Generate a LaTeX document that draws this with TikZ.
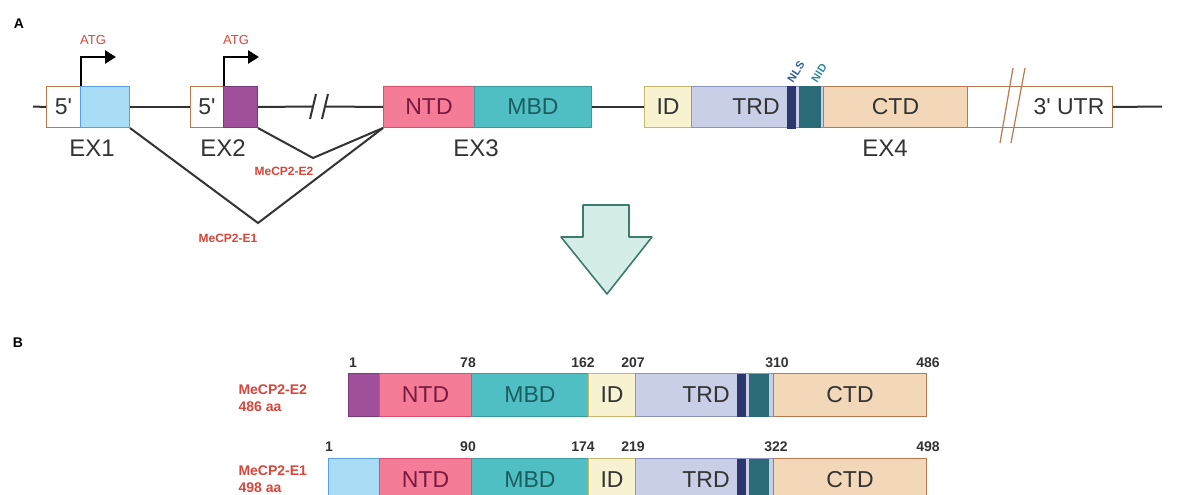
\documentclass[tikz,border=0pt]{standalone}
\usepackage{fontspec}
\setmainfont{Liberation Sans}[Ligatures=TeXOff]
\usetikzlibrary{arrows.meta}
\definecolor{lbl}{HTML}{D8453B}
\definecolor{ink}{HTML}{333333}
\definecolor{brownb}{HTML}{B87850}
\definecolor{bluef}{HTML}{A9DCF5}
\definecolor{blueb}{HTML}{5AA0E0}
\definecolor{purf}{HTML}{A0509A}
\definecolor{purb}{HTML}{7A3A7A}
\definecolor{ntdf}{HTML}{F47C96}
\definecolor{ntdb}{HTML}{D9506F}
\definecolor{ntdt}{HTML}{7A1A40}
\definecolor{mbdf}{HTML}{4FBFC4}
\definecolor{mbdb}{HTML}{3A9AA0}
\definecolor{mbdt}{HTML}{1B5E62}
\definecolor{idf}{HTML}{F7F3D0}
\definecolor{idb}{HTML}{C8B870}
\definecolor{trdf}{HTML}{C8CFE6}
\definecolor{trdb}{HTML}{8A94C0}
\definecolor{nlsf}{HTML}{2B3870}
\definecolor{nidf}{HTML}{2B6B78}
\definecolor{ctdf}{HTML}{F2D8B8}
\definecolor{nlst}{HTML}{2D5D9D}
\definecolor{nidt}{HTML}{2A8A9C}
\definecolor{arrf}{HTML}{D4EDE8}
\definecolor{arrb}{HTML}{3D7B6C}
\tikzset{
  seg/.style={draw, line width=1pt, inner sep=0pt, anchor=north west, text=ink,
    font=\fontsize{23}{23}\selectfont},
  rowA/.style={seg, minimum height=41},
  rowB/.style={seg, minimum height=43},
  exlbl/.style={text=ink, font=\fontsize{24}{24}\selectfont},
  redsm/.style={text=lbl, font=\bfseries\fontsize{12}{12}\selectfont},
  atg/.style={text=lbl, font=\fontsize{13}{13}\selectfont},
  num/.style={text=ink, font=\bfseries\fontsize{14}{14}\selectfont},
  intron/.style={draw=ink, line width=2pt},
  atgarrow/.style={draw=black, line width=2.6pt, -{Triangle[length=11pt,width=13pt]}},
  brk/.style={line width=2pt, draw=ink},
  panel/.style={font=\bfseries\fontsize{14}{14}\selectfont, text=black},
  blabel/.style={text=lbl, align=left, anchor=west, font=\bfseries\fontsize{14}{17}\selectfont},
  rotl/.style={rotate=57, inner sep=0pt, font=\bfseries\fontsize{11}{11}\selectfont},
}
\begin{document}
\begin{tikzpicture}[x=1pt,y=-1pt]
\useasboundingbox (0,0) rectangle (1179,495);
\clip (0,0) rectangle (1179,495);
\node[panel] (pA) at (19,24) {A};
\node[panel] (pB) at (18,343) {B};

% ---------- Panel A: gene ----------
\node[rowA, fill=white, draw=brownb, minimum width=34] (e1a) at (46,86) {5'};
\node[rowA, fill=bluef, draw=blueb, minimum width=49] (e1b) at (80,86) {};
\node[rowA, fill=white, draw=brownb, minimum width=33] (e2a) at (190,86) {5'};
\node[rowA, fill=purf, draw=purb, minimum width=34] (e2b) at (223,86) {};
\node[rowA, fill=ntdf, draw=ntdb, text=ntdt, minimum width=91] (e3a) at (383,86) {NTD};
\node[rowA, fill=mbdf, draw=mbdb, text=mbdt, minimum width=117] (e3b) at (474,86) {MBD};
\node[rowA, fill=idf, draw=idb, minimum width=47] (e4a) at (644,86) {ID};
\node[rowA, fill=trdf, draw=trdb, minimum width=132] (e4b) at (691,86) {};
\node[text=ink, font=\fontsize{23}{23}\selectfont] (trdA) at (756,106.5) {TRD};
\node[rowA, fill=nlsf, draw=nlsf, line width=0.5pt, minimum width=8] (nlsA) at (787,86.5) {};
\node[rowA, fill=nidf, draw=nidf, line width=0.5pt, minimum width=21, minimum height=40] (nidA) at (799,86.5) {};
\node[rowA, fill=ctdf, draw=brownb, minimum width=144] (e4c) at (823,86) {CTD};
\node[rowA, fill=white, draw=brownb, minimum width=145] (e4d) at (967,86) {};
\node[text=ink, font=\fontsize{23}{23}\selectfont] (utr) at (1069,106.5) {3' UTR};
\draw[draw=brownb, line width=1.2pt] (1000,143) -- (1013,68) (1011,143) -- (1025,68);

\node[rotl, text=nlst] (nlsl) at (796,72) {NLS};
\node[rotl, text=nidt] (nidl) at (819,73) {NID};

\node[exlbl] (ex1) at (92,148) {EX1};
\node[exlbl] (ex2) at (223,148) {EX2};
\node[exlbl] (ex3) at (476,148) {EX3};
\node[exlbl] (ex4) at (885,148) {EX4};

% introns
\coordinate (lend) at (33,106.5);
\coordinate (rend) at (1162,106.5);
\coordinate (bk1) at (312,106.5);
\coordinate (bk2) at (326,106.5);
\draw[intron] (lend) -- (e1a.west);
\draw[intron] (e1b.east) -- (e2a.west);
\draw[intron] (e2b.east) -- (bk1);
\draw[intron] (bk2) -- (e3a.west);
\draw[brk] (310,119) -- (316,94) (322,119) -- (328,94);
\draw[intron] (e3b.east) -- (e4a.west);
\draw[intron] (e4d.east) -- (rend);

% ATG arrows
\coordinate (atg1) at (116,57);
\coordinate (atg2) at (259,57);
\draw[atgarrow] (e1a.north east) |- (atg1);
\draw[atgarrow] (e2a.north east) |- (atg2);
\node[atg] (atgl1) at (93,40) {ATG};
\node[atg] (atgl2) at (236,40) {ATG};

% splicing
\coordinate (v1) at (258,223);
\coordinate (v2) at (313,158);
\draw[intron, line join=miter] (e1b.south east) -- (v1) -- (e3a.south west);
\draw[intron, line join=miter] (e2b.south east) -- (v2) -- (e3a.south west);
\node[redsm] (sp2) at (284,171) {MeCP2-E2};
\node[redsm] (sp1) at (228,238) {MeCP2-E1};

% block arrow
\draw[fill=arrf, draw=arrb, line width=1.6pt, line join=round]
  (583,205) -- (629,205) -- (629,237) -- (652,237) -- (607,294) -- (561,237) -- (583,237) -- cycle;

% ---------- Panel B ----------
% E2 row
\node[rowB, fill=purf, draw=purb, minimum width=31] (b2a) at (348,373) {};
\node[rowB, fill=ntdf, draw=ntdb, text=ntdt, minimum width=92] (b2b) at (379,373) {NTD};
\node[rowB, fill=mbdf, draw=mbdb, text=mbdt, minimum width=117] (b2c) at (471,373) {MBD};
\node[rowB, fill=idf, draw=idb, minimum width=47] (b2d) at (588,373) {ID};
\node[rowB, fill=trdf, draw=trdb, minimum width=138] (b2e) at (635,373) {};
\node[text=ink, font=\fontsize{23}{23}\selectfont] (b2trd) at (706,394.5) {TRD};
\node[rowB, fill=nlsf, draw=nlsf, line width=0.5pt, minimum width=8, minimum height=42] (b2n) at (737,373.5) {};
\node[rowB, fill=nidf, draw=nidf, line width=0.5pt, minimum width=19, minimum height=42] (b2m) at (749,373.5) {};
\node[rowB, fill=ctdf, draw=brownb, minimum width=153] (b2f) at (773,373) {CTD};
\node[blabel] (lab2) at (235,398) {MeCP2-E2\\486 aa};
\node[num] (n21) at (353,363) {1};
\node[num] (n22) at (468,363) {78};
\node[num] (n23) at (583,363) {162};
\node[num] (n24) at (633,363) {207};
\node[num] (n25) at (777,363) {310};
\node[num] (n26) at (928,363) {486};

% E1 row
\node[rowB, fill=bluef, draw=blueb, minimum width=51] (b1a) at (328,458) {};
\node[rowB, fill=ntdf, draw=ntdb, text=ntdt, minimum width=92] (b1b) at (379,458) {NTD};
\node[rowB, fill=mbdf, draw=mbdb, text=mbdt, minimum width=117] (b1c) at (471,458) {MBD};
\node[rowB, fill=idf, draw=idb, minimum width=47] (b1d) at (588,458) {ID};
\node[rowB, fill=trdf, draw=trdb, minimum width=138] (b1e) at (635,458) {};
\node[text=ink, font=\fontsize{23}{23}\selectfont] (b1trd) at (706,479.5) {TRD};
\node[rowB, fill=nlsf, draw=nlsf, line width=0.5pt, minimum width=8, minimum height=42] (b1n) at (737,458.5) {};
\node[rowB, fill=nidf, draw=nidf, line width=0.5pt, minimum width=19, minimum height=42] (b1m) at (749,458.5) {};
\node[rowB, fill=ctdf, draw=brownb, minimum width=153] (b1f) at (773,458) {CTD};
\node[blabel] (lab1) at (235,479) {MeCP2-E1\\498 aa};
\node[num] (n11) at (329,447) {1};
\node[num] (n12) at (468,447) {90};
\node[num] (n13) at (583,447) {174};
\node[num] (n14) at (633,447) {219};
\node[num] (n15) at (776,447) {322};
\node[num] (n16) at (928,447) {498};
\end{tikzpicture}
\end{document}
